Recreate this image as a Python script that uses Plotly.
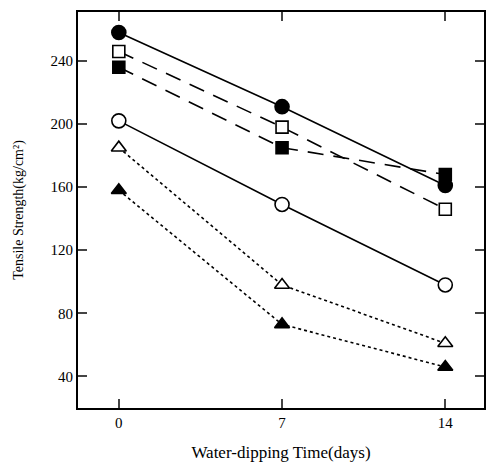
import plotly.graph_objects as go

days = [0, 7, 14]
filled_circle = [258, 211, 161]
open_square = [246, 198, 146]
filled_square = [236, 185, 168]
open_circle = [202, 149, 98]
open_triangle = [185, 98, 61]
filled_triangle = [158, 73, 46]

series = [
    (filled_circle, "circle", True, "solid"),
    (open_square, "square", False, "16px,10px"),
    (filled_square, "square", True, "16px,10px"),
    (open_circle, "circle", False, "solid"),
    (open_triangle, "triangle-up", False, "dot"),
    (filled_triangle, "triangle-up", True, "dot"),
]

fig = go.Figure()
for vals, sym, filled, dash in series:
    fig.add_trace(go.Scatter(
        x=days, y=vals, mode="lines+markers",
        line=dict(color="black", width=1.6, dash=dash),
        marker=dict(symbol=sym, size={"circle": 14, "square": 12, "triangle-up": 13}[sym],
                    color="black" if filled else "white",
                    line=dict(color="black", width=1.6)),
        showlegend=False,
    ))

font = dict(family="Liberation Serif, Times New Roman, serif", size=15, color="black")
fig.update_layout(
    width=488, height=469,
    margin=dict(l=78, r=2, t=12, b=61),
    plot_bgcolor="white", paper_bgcolor="white",
    font=font,
)
fig.update_xaxes(
    range=[-1.75, 15.66], tickvals=[0, 7, 14], ticks="inside", ticklen=9, tickwidth=1.5,
    showline=True, linecolor="black", linewidth=1.8, mirror="ticks", showgrid=False, zeroline=False,
    tickfont=dict(size=15, color="black"),
    title=dict(text="Water-dipping Time(days)", standoff=16,
               font=dict(size=17, color="black")),
)
fig.update_yaxes(
    range=[20, 271], tickvals=[40, 80, 120, 160, 200, 240], ticks="inside", ticklen=9, tickwidth=1.5,
    showline=True, linecolor="black", linewidth=1.8, mirror="ticks", showgrid=False, zeroline=False,
    tickfont=dict(size=15, color="black"),
    title=dict(text="Tensile Strength(kg/cm²)", standoff=24,
               font=dict(size=14, color="black")),
)
fig.write_html("out.html")
